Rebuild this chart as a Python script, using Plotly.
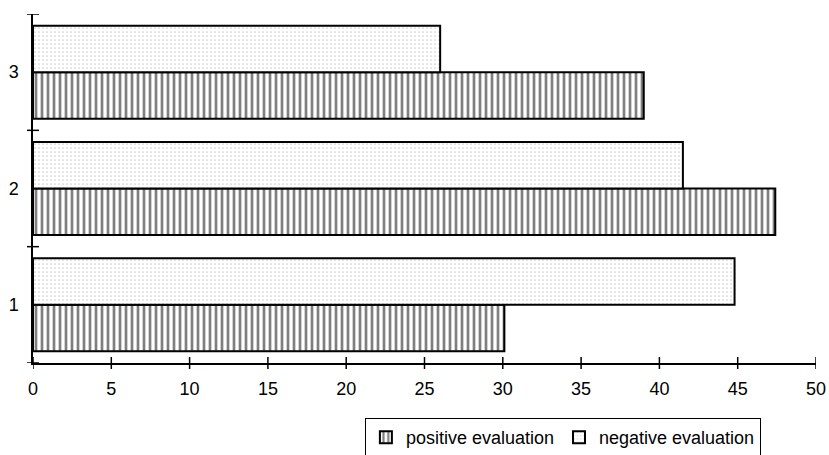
import plotly.graph_objects as go

categories = [1, 2, 3]
positive = [30.1, 47.4, 39.0]
negative = [44.8, 41.5, 26.0]
x_ticks = [0, 5, 10, 15, 20, 25, 30, 35, 40, 45, 50]
boundaries = [0.5, 1.5, 2.5, 3.5]

FONT = "Liberation Sans, Arial, sans-serif"
TICK_HALF = 6  # px on each side of the axis line (crossing ticks)

fig = go.Figure()
fig.add_trace(go.Bar(
    y=categories, x=positive, orientation="h", name="positive evaluation",
    marker=dict(color="white", line=dict(color="black", width=2),
                pattern=dict(shape="|", fgcolor="black", bgcolor="white",
                             size=6, solidity=0.45)),
))
fig.add_trace(go.Bar(
    y=categories, x=negative, orientation="h", name="negative evaluation",
    marker=dict(color="white", line=dict(color="black", width=2),
                pattern=dict(shape=".", fgcolor="#a0a0a0", bgcolor="white",
                             size=4, solidity=0.15)),
))

# crossing tick marks, placed through the axes' own scales
for v in x_ticks:
    fig.add_shape(type="line", xref="x", yref="paper", x0=v, x1=v,
                  ysizemode="pixel", yanchor=0, y0=-TICK_HALF, y1=TICK_HALF,
                  line=dict(color="black", width=1.5), layer="above")
for b in boundaries:
    fig.add_shape(type="line", yref="y", xref="paper", y0=b, y1=b,
                  xsizemode="pixel", xanchor=0, x0=-TICK_HALF, x1=TICK_HALF,
                  line=dict(color="black", width=1.5), layer="above")

fig.update_layout(
    width=829, height=455,
    margin=dict(l=33, r=13, t=14, b=92, autoexpand=False),
    plot_bgcolor="white", paper_bgcolor="white",
    barmode="group", bargap=0.2, bargroupgap=0,
    font=dict(family=FONT, size=18, color="black"),
    showlegend=True,
    legend=dict(orientation="h", xref="container", yref="container",
                x=0.679, xanchor="center", y=1 - 418 / 455, yanchor="top",
                bordercolor="black", borderwidth=1, bgcolor="white",
                font=dict(family=FONT, size=18, color="black"),
                traceorder="normal", itemwidth=30, tracegroupgap=0),
    xaxis=dict(range=[0, 50], tickmode="array", tickvals=x_ticks, ticks="",
               showline=True, linecolor="black", linewidth=1.5, showgrid=False,
               zeroline=False, anchor="y", automargin=False, ticklabelstandoff=9,
               tickfont=dict(size=18)),
    yaxis=dict(range=[0.5, 3.5], tickmode="array", tickvals=categories,
               ticktext=[str(c) for c in categories], ticks="",
               showline=True, linecolor="black", linewidth=1.5,
               showgrid=False, zeroline=False, anchor="x", automargin=False,
               ticklabelstandoff=9, tickfont=dict(size=18)),
)

fig.write_html("out.html")
